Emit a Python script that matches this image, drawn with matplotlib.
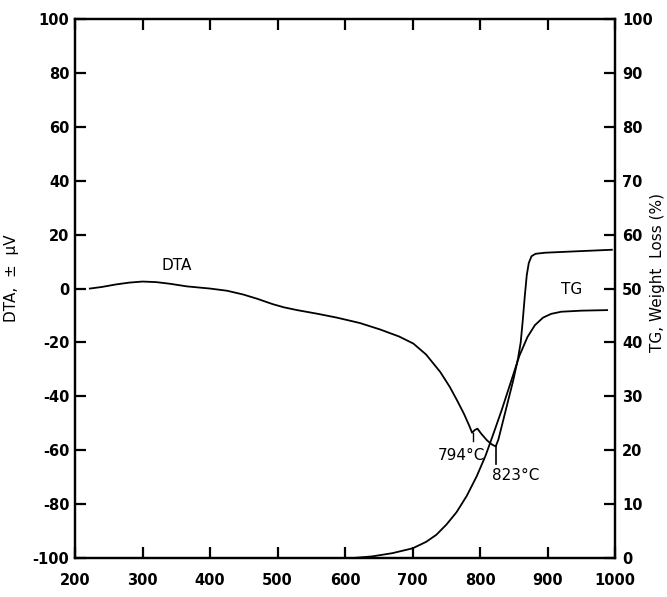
import numpy as np
import matplotlib
matplotlib.use("Agg")
from matplotlib import pyplot as plt

plt.rcParams['font.family'] = ['DejaVu Sans']
plt.rcParams['axes.unicode_minus'] = False

# DTA curve (left axis, microvolts)
dta_temp = [222, 240, 260, 280, 300, 320, 340, 366, 400, 425, 449, 470, 493,
            510, 529, 560, 588, 622, 652, 680, 701, 720, 741, 755, 766, 776,
            784, 788, 792, 796, 802, 810, 817, 823, 827, 832, 840, 849, 856,
            860, 863, 866, 869, 872, 876, 882, 896, 940, 995]
dta_val = [0, 0.6, 1.5, 2.2, 2.6, 2.4, 1.8, 0.8, 0, -0.8, -2.2, -3.8, -5.8,
           -7, -8, -9.4, -10.8, -12.8, -15.2, -17.8, -20.4, -24.5, -31, -36.5,
           -41.6, -46.5, -51, -53.5, -52.5, -52, -54, -56.3, -57.8, -58.6, -56,
           -51, -43, -34, -26, -20, -12, -3, 5, 9.5, 12, 12.9, 13.3, 13.8, 14.4]

# TG curve (right axis, weight loss %)
tg_temp = [612, 640, 670, 700, 720, 735, 750, 765, 780, 795, 808, 820, 832,
           845, 858, 870, 881, 893, 905, 920, 950, 988]
tg_val = [0, 0.3, 0.9, 1.8, 3, 4.3, 6.2, 8.5, 11.5, 15.2, 19, 23.2, 27.5,
          32.5, 37.5, 41, 43.2, 44.6, 45.3, 45.7, 45.9, 46]

x_ticks = [200, 300, 400, 500, 600, 700, 800, 900, 1000]
dta_ticks = [-100, -80, -60, -40, -20, 0, 20, 40, 60, 80, 100]
tg_ticks = [0, 10, 20, 30, 40, 50, 60, 70, 80, 90, 100]

fig = plt.figure(figsize=(6.67, 5.97), dpi=100)
ax = fig.add_axes([0.1124, 0.0653, 0.81, 0.9027])
ax2 = ax.twinx()

ax.plot(dta_temp, dta_val, color='black', lw=1.3, solid_joinstyle='round')
ax2.plot(tg_temp, tg_val, color='black', lw=1.3, solid_joinstyle='round')

ax.set_xlim(200, 1000)
ax.set_ylim(-100, 100)
ax2.set_ylim(0, 100)

ax.set_xticks(x_ticks)
ax.set_yticks(dta_ticks)
ax2.set_yticks(tg_ticks)

for a in (ax, ax2):
    for s in a.spines.values():
        s.set_linewidth(1.6)

ax.tick_params(axis='both', direction='in', length=8, width=1.6,
               labelsize=10.5, top=True)
ax.tick_params(axis='x', pad=11)
ax.tick_params(axis='y', pad=4)
ax2.tick_params(axis='y', direction='in', length=8, width=1.6,
                labelsize=10.5, pad=5)
for lbl in ax.get_xticklabels() + ax.get_yticklabels() + ax2.get_yticklabels():
    lbl.set_fontweight('bold')

ax.set_ylabel('DTA,  \u00b1  \u03bcV', fontsize=11)
ax.yaxis.set_label_coords(-0.104, 0.52)
ax2.set_ylabel('TG, Weight  Loss (%)', fontsize=11)
ax2.yaxis.set_label_coords(1.065, 0.53)

ax.text(351, 8.5, 'DTA', fontsize=11, ha='center', va='center')
ax2.text(935, 49.8, 'TG', fontsize=11, ha='center', va='center')

# peak markers
ax.plot([790, 790], [-53.5, -56.5], color='black', lw=1)
ax.text(772, -62, '794\u00b0C', fontsize=11, ha='center', va='center')
ax.plot([823, 823], [-58.6, -65], color='black', lw=1.2)
ax.text(853, -69.5, '823\u00b0C', fontsize=11, ha='center', va='center')

fig.savefig('out.png', dpi=100)
